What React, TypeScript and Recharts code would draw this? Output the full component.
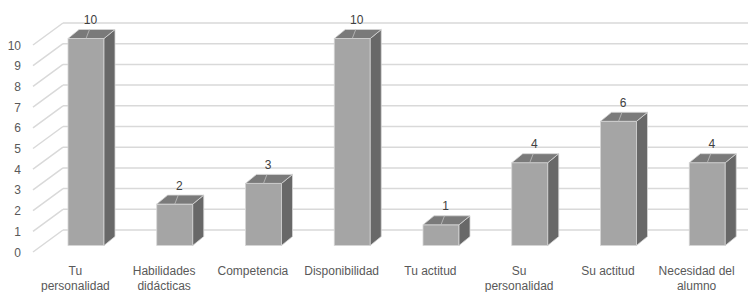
import React from 'react';
import { BarChart, Bar, XAxis, YAxis, CartesianGrid, LabelList } from 'recharts';

const categories: string[] = [
    'Tu personalidad',
    'Habilidades didácticas',
    'Competencia',
    'Disponibilidad',
    'Tu actitud',
    'Su personalidad',
    'Su actitud',
    'Necesidad del alumno',
];

const valores: number[] = [10, 2, 3, 10, 1, 4, 6, 4];

const yTicks: number[] = [0, 1, 2, 3, 4, 5, 6, 7, 8, 9, 10];

const data = categories.map((name, i) => ({ name, value: valores[i] }));

// 3D offsets (Excel style)
const SHIFT_X = 11;
const SHIFT_Y = -6.5;
const DEPTH_X = 11;
const DEPTH_Y = -9;
const WALL_DX = 30;
const WALL_DY = -22;

const FONT = '"Liberation Sans", Arial, sans-serif';

function Bar3D(props: any) {
    const { x, y, width, height } = props;
    if (height == null || height <= 0) return null;
    const fx = x + SHIFT_X;
    const fy = y + SHIFT_Y;
    const w = width;
    const h = height;
    const top = `${fx},${fy} ${fx + DEPTH_X},${fy + DEPTH_Y} ${fx + w + DEPTH_X},${fy + DEPTH_Y} ${fx + w},${fy}`;
    const side = `${fx + w},${fy} ${fx + w + DEPTH_X},${fy + DEPTH_Y} ${fx + w + DEPTH_X},${fy + h + DEPTH_Y} ${fx + w},${fy + h}`;
    const cx = fx + w / 2;
    return (
        <g>
            <rect x={fx} y={fy} width={w} height={h} fill="#a5a5a5" stroke="#d6d6d6" strokeWidth={0.8} />
            <polygon points={side} fill="#686868" stroke="#d6d6d6" strokeWidth={0.8} />
            <polygon points={top} fill="#7a7a7a" stroke="#d6d6d6" strokeWidth={0.8} />
            <line x1={cx} y1={fy} x2={cx + 3.5} y2={fy + DEPTH_Y} stroke="#bfbfbf" strokeWidth={0.8} />
        </g>
    );
}

function YTick(props: any) {
    const { y, payload } = props;
    return (
        <g>
            <line x1={33} y1={y} x2={33 + WALL_DX} y2={y + WALL_DY} stroke="#d9d9d9" strokeWidth={1.5} />
            <text x={21} y={y + 4.5} textAnchor="end" fontSize={12} fontFamily={FONT} fill="#595959">
                {payload.value}
            </text>
        </g>
    );
}

function wrap(label: string): string[] {
    const words = label.split(' ');
    const lines: string[] = [];
    let cur = '';
    words.forEach(wd => {
        const next = cur ? cur + ' ' + wd : wd;
        if (next.length > 13 && cur) {
            lines.push(cur);
            cur = wd;
        } else {
            cur = next;
        }
    });
    if (cur) lines.push(cur);
    return lines;
}

function XTick(props: any) {
    const { x, payload } = props;
    const lines = wrap(payload.value);
    return (
        <text textAnchor="middle" fontSize={12} fontFamily={FONT} fill="#595959">
            {lines.map((l, i) => (
                <tspan key={i} x={x} y={275 + i * 15}>{l}</tspan>
            ))}
        </text>
    );
}

function ValueLabel(props: any) {
    const { x, y, width, value } = props;
    return (
        <text x={x + width / 2 + SHIFT_X + 4.5} y={y - 21} textAnchor="middle" fontSize={12} fontFamily={FONT} fill="#404040">
            {value}
        </text>
    );
}

function BackGridLine(props: any) {
    const { y1 } = props;
    return <line x1={33 + WALL_DX} x2={748} y1={y1 + WALL_DY} y2={y1 + WALL_DY} stroke="#d9d9d9" strokeWidth={1.5} />;
}

export default function App() {
    return (
        <div style={{ position: 'absolute', left: 0, top: 0, background: '#fff' }}>
            <BarChart width={751} height={292} data={data} margin={{ top: 45, right: 10, bottom: 0, left: 0 }}>
                <CartesianGrid vertical={false} horizontal={BackGridLine} />
                <YAxis
                    width={31}
                    domain={[0, 10]}
                    ticks={yTicks}
                    interval={0}
                    axisLine={false}
                    tickLine={false}
                    tick={YTick}
                />
                <XAxis dataKey="name" height={40} interval={0} axisLine={false} tickLine={false} tick={XTick} />
                <Bar dataKey="value" barSize={36} shape={Bar3D} isAnimationActive={false}>
                    <LabelList dataKey="value" content={ValueLabel} />
                </Bar>
            </BarChart>
        </div>
    );
}
